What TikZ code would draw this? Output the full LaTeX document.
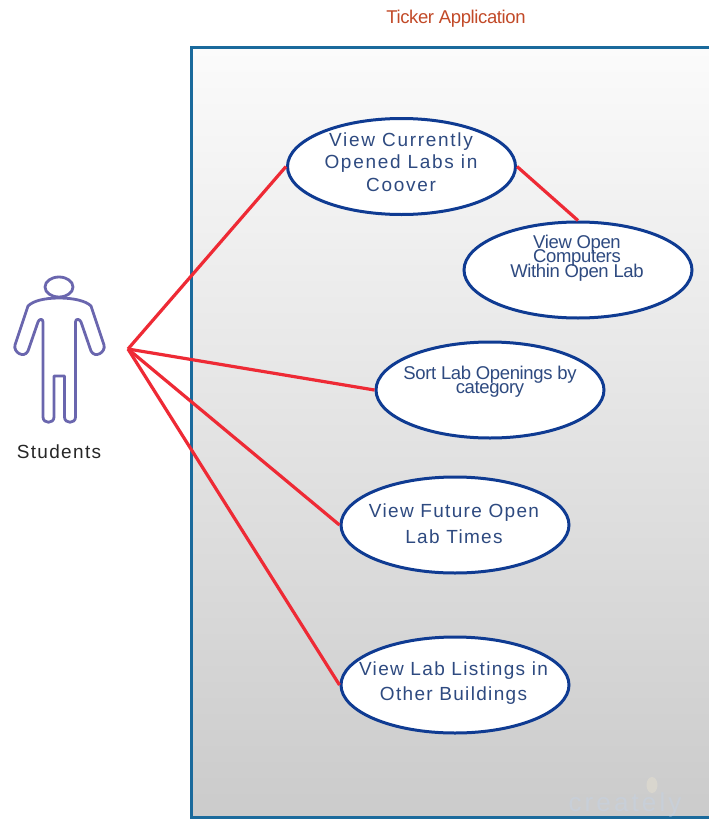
\documentclass[tikz,border=0pt]{standalone}
\usepackage{fontspec}
\setmainfont{Liberation Sans}
\newfontfamily\widefont[LetterSpace=9]{Liberation Sans}
\newfontfamily\midfont[LetterSpace=7]{Liberation Sans}
\newfontfamily\studentfont[LetterSpace=7]{Liberation Sans}
\newfontfamily\tightfont[LetterSpace=-2]{Liberation Sans}
\newfontfamily\markfont[LetterSpace=12]{Liberation Sans}
\usetikzlibrary{shapes.geometric}
\definecolor{boxblue}{HTML}{1A6A9C}
\definecolor{linkred}{HTML}{EE2A35}
\definecolor{ovalblue}{HTML}{0F3B92}
\definecolor{labelblue}{HTML}{2E4A80}
\definecolor{titlered}{HTML}{C24A28}
\definecolor{actorblue}{HTML}{6A66AE}
\definecolor{markblue}{HTML}{C8CFD8}
\definecolor{markbulb}{HTML}{D9D6CE}
\definecolor{boxtop}{HTML}{FBFBFB}
\definecolor{boxbottom}{HTML}{CBCBCB}
\AtBeginDocument{\lineskiplimit=-100pt\relax\normallineskiplimit=-100pt\relax}
\tikzset{
  usecase/.style={ellipse,draw=ovalblue,line width=3pt,fill=white,minimum width=228pt,minimum height=96pt,inner sep=0pt},
  caselabel/.style={text=labelblue,align=center,inner sep=0pt,font=\fontsize{19}{22.5}\selectfont\widefont},
  tightlabel/.style={text=labelblue,align=center,inner sep=0pt,font=\fontsize{18.5}{14.5}\selectfont\tightfont},
  link/.style={draw=linkred,line width=3.2pt},
  actorline/.style={draw=actorblue,line width=2.8pt,line join=round}
}
\begin{document}
\begin{tikzpicture}[x=1pt,y=-1pt]
\useasboundingbox (0,0) rectangle (709,819);
\fill[white] (0,0) rectangle (709,819);
\begin{scope}
\clip (0,0) rectangle (709,819);
\draw[boxblue,line width=3.2pt,top color=boxtop,bottom color=boxbottom,shading angle=0] (191.5,47.5) rectangle (730,818);
\draw[boxblue,line width=3.2pt] (191.5,47.5) -- (730,47.5) (191.5,47.5) -- (191.5,818) -- (730,818);
\node[text=markblue,inner sep=0pt,anchor=base,font=\fontsize{26}{26}\selectfont\markfont] (wm) at (625,811) {creately};
\fill[markbulb] (652,785) ellipse (5.5 and 8);
\end{scope}
\node[text=titlered,inner sep=0pt,font=\fontsize{18.5}{18.5}\selectfont\tightfont] (title) at (456,19) {Ticker Application};
% actor
\draw[actorline] (59,287) ellipse (14 and 10);
\draw[actorline] (59,298) .. controls (44,298) and (33,301) .. (28,306)
  -- (15,345) .. controls (13,352) and (24,359) .. (28,351)
  -- (38,322) .. controls (39,319) and (43,318) .. (43,322)
  -- (43,417) .. controls (43,424) and (54,424) .. (54,417)
  -- (54,376) -- (64.5,376) -- (64.5,417) .. controls (64.5,424) and (75.5,424) .. (75.5,417)
  -- (75.5,322) .. controls (75.5,318) and (80,319) .. (81,322)
  -- (91,351) .. controls (95,359) and (106,352) .. (104,345)
  -- (91,306) .. controls (86,301) and (74,298) .. (59,298) -- cycle;
\node[inner sep=0pt,text=black!85,font=\fontsize{19}{19}\selectfont\studentfont] (students) at (59,452) {Students};
\coordinate (hub) at (128,349);
% use cases
\node[usecase] (c1) at (401.5,166.5) {};
\node[usecase] (c2) at (578,270) {};
\node[usecase] (c3) at (490,390) {};
\node[usecase] (c4) at (455,525) {};
\node[usecase] (c5) at (455,685) {};
\draw[link] (hub) -- (c1.west);
\draw[link] (hub) -- (c3.west);
\draw[link] (hub) -- (c4.west);
\draw[link] (hub) -- (c5.west);
\draw[link] (c1.east) -- (c2.north);
\node[caselabel] (t1) at (401,162) {View Currently\\Opened Labs in\\Coover};
\node[tightlabel] (t2) at (577,258) {View Open\\Computers\\Within Open Lab};
\node[tightlabel] (t3) at (490,381.5) {Sort Lab Openings by\\category};
\node[caselabel,font=\fontsize{19}{25.5}\selectfont\midfont] (t4) at (454,523.5) {View Future Open\\Lab Times};
\node[caselabel,font=\fontsize{19}{25.5}\selectfont\midfont] (t5) at (453.5,683) {View Lab Listings in\\Other Buildings};
\end{tikzpicture}
\end{document}
